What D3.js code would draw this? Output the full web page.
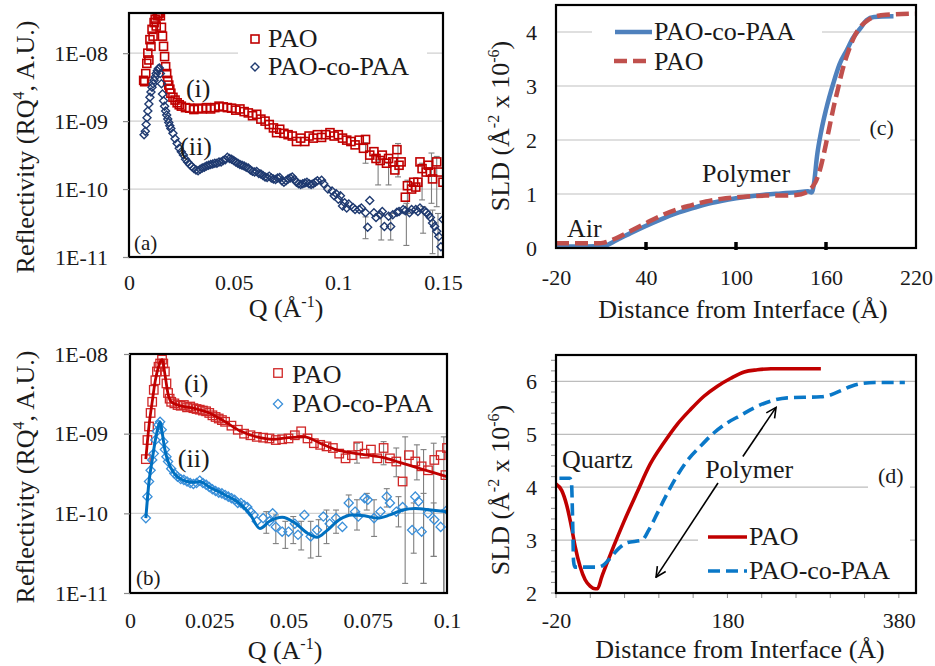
<!DOCTYPE html>
<html>
<head>
<meta charset="utf-8">
<script src="https://cdn.jsdelivr.net/npm/d3@7/dist/d3.min.js"></script>
</head>
<body style="margin:0">
<script>
// ---------- panel (a): reflectivity, Q in 1/A ----------
var aPaoQ = [0.0070,0.0075,0.0080,0.0085,0.0090,0.0095,0.0100,0.0105,0.0110,0.0115,0.0120,0.0125,0.0130,0.0135,0.0140,0.0145,0.0150,0.0155,0.0160,0.0165,0.0170,0.0175,0.0180,0.0185,0.0190,0.0195,0.020,0.021,0.022,0.023,0.024,0.025,0.027,0.029,0.031,0.033,0.035,0.037,0.039,0.041,0.043,0.045,0.047,0.049,0.051,0.053,0.055,0.057,0.059,0.061,0.063,0.065,0.067,0.069,0.0705,0.072,0.074,0.076,0.078,0.080,0.082,0.084,0.086,0.088,0.090,0.092,0.094,0.096,0.098,0.100,0.102,0.104,0.106,0.108,0.110,0.112,0.113,0.115,0.117,0.118,0.120,0.121,0.123,0.124,0.126,0.127,0.128,0.129,0.130,0.132,0.133,0.135,0.136,0.137,0.138,0.139,0.140,0.142,0.143,0.144,0.145,0.147,0.148,0.150];
var aPaoR = [3.98e-9,3.8e-9,5.01e-9,7.08e-9,1.0e-8,7.94e-9,1.58e-8,1.26e-8,2.24e-8,1.78e-8,2.82e-8,3.16e-8,2.51e-8,3.55e-8,3.8e-8,3.9e-8,3.55e-8,2.4e-8,1.78e-8,1.26e-8,8.91e-9,6.31e-9,5.01e-9,3.98e-9,3.39e-9,2.95e-9,2.57e-9,2.24e-9,2.04e-9,1.86e-9,1.74e-9,1.66e-9,1.58e-9,1.55e-9,1.48e-9,1.55e-9,1.51e-9,1.58e-9,1.51e-9,1.58e-9,1.66e-9,1.62e-9,1.58e-9,1.55e-9,1.45e-9,1.51e-9,1.38e-9,1.32e-9,1.2e-9,1.26e-9,1.07e-9,1.0e-9,8.91e-10,7.94e-10,6.76e-10,7.59e-10,6.61e-10,6.31e-10,6.03e-10,5.01e-10,5.62e-10,5.01e-10,6.03e-10,5.62e-10,6.31e-10,5.75e-10,6.31e-10,6.76e-10,6.03e-10,6.31e-10,5.62e-10,5.25e-10,5.01e-10,4.47e-10,5.25e-10,3.98e-10,5.37e-10,3.16e-10,3.55e-10,2.82e-10,2.63e-10,3.16e-10,2.4e-10,2.82e-10,2.51e-10,1.91e-10,3.8e-10,2.24e-10,2.51e-10,7.59e-11,1.12e-10,1.0e-10,1.26e-10,1.07e-10,1.26e-10,2.51e-10,2.0e-10,1.78e-10,2.24e-10,1.78e-10,1.41e-10,2.51e-10,1.78e-10,1.26e-10];
var aCoQ = [0.0072,0.0078,0.0082,0.0086,0.0090,0.0095,0.0100,0.0105,0.0110,0.0115,0.0120,0.0125,0.0130,0.0135,0.0140,0.0145,0.0150,0.0155,0.0160,0.0165,0.0170,0.0175,0.0180,0.0185,0.0190,0.0195,0.020,0.021,0.022,0.023,0.024,0.025,0.026,0.027,0.028,0.029,0.030,0.031,0.032,0.033,0.034,0.035,0.036,0.037,0.038,0.039,0.040,0.041,0.042,0.043,0.044,0.045,0.046,0.047,0.048,0.049,0.050,0.051,0.052,0.053,0.054,0.055,0.056,0.057,0.058,0.059,0.060,0.061,0.062,0.063,0.064,0.065,0.066,0.067,0.068,0.069,0.070,0.071,0.072,0.073,0.074,0.075,0.076,0.077,0.078,0.079,0.080,0.081,0.082,0.083,0.084,0.085,0.086,0.087,0.088,0.089,0.090,0.092,0.093,0.095,0.097,0.098,0.099,0.100,0.101,0.102,0.103,0.104,0.105,0.107,0.108,0.110,0.111,0.113,0.114,0.115,0.117,0.118,0.120,0.121,0.122,0.124,0.125,0.126,0.128,0.129,0.131,0.132,0.134,0.135,0.137,0.138,0.139,0.141,0.142,0.143,0.144,0.145,0.146,0.147,0.148,0.149,0.150];
var aCoR = [6.31e-10,7.08e-10,8.91e-10,1.12e-9,1.41e-9,1.78e-9,2.24e-9,2.69e-9,3.16e-9,3.55e-9,3.98e-9,4.47e-9,5.01e-9,5.5e-9,5.89e-9,6.03e-9,5.01e-9,3.55e-9,2.51e-9,2.0e-9,1.66e-9,1.41e-9,1.23e-9,1.07e-9,9.55e-10,8.51e-10,7.76e-10,6.61e-10,5.5e-10,4.68e-10,3.98e-10,3.55e-10,3.16e-10,2.75e-10,2.51e-10,2.29e-10,2.14e-10,2.0e-10,1.91e-10,1.86e-10,1.95e-10,2.04e-10,2.09e-10,2.19e-10,2.24e-10,2.29e-10,2.34e-10,2.4e-10,2.4e-10,2.51e-10,2.51e-10,2.63e-10,2.69e-10,2.95e-10,2.82e-10,2.75e-10,2.63e-10,2.51e-10,2.4e-10,2.29e-10,2.24e-10,2.19e-10,2.09e-10,2.04e-10,1.91e-10,1.82e-10,1.78e-10,1.82e-10,1.7e-10,1.66e-10,1.58e-10,1.51e-10,1.48e-10,1.55e-10,1.45e-10,1.41e-10,1.38e-10,1.45e-10,1.48e-10,1.32e-10,1.26e-10,1.32e-10,1.41e-10,1.45e-10,1.51e-10,1.38e-10,1.26e-10,1.2e-10,1.17e-10,1.2e-10,1.23e-10,1.26e-10,1.2e-10,1.17e-10,1.2e-10,1.26e-10,1.32e-10,1.35e-10,1.2e-10,1.0e-10,9.33e-11,7.94e-11,8.51e-11,7.08e-11,7.94e-11,5.62e-11,6.31e-11,5.25e-11,6.03e-11,5.37e-11,5.01e-11,5.01e-11,5.25e-11,4.47e-11,2.75e-11,6.76e-11,4.47e-11,3.8e-11,4.17e-11,4.68e-11,2.82e-11,3.98e-11,2.82e-11,4.17e-11,4.57e-11,4.68e-11,5.01e-11,4.79e-11,4.47e-11,5.01e-11,5.01e-11,4.68e-11,5.25e-11,4.79e-11,4.57e-11,4.17e-11,3.8e-11,3.16e-11,2.82e-11,2.4e-11,2.0e-11,1.41e-11,3.55e-11];
// error bars as [Q, low, high]
var aPaoErr = [[0.113,4.8e-10,2.4e-10],[0.119,2.69e-10,1.15e-10],[0.124,2.4e-10,1.15e-10],[0.1285,4.68e-10,1.51e-10],[0.133,1.35e-10,4.37e-11],[0.140,2.4e-10,6.92e-11],[0.1445,3.39e-10,6.17e-11],[0.147,3.02e-10,5.5e-11]];
var aCoErr = [[0.113,3.89e-11,1.86e-11],[0.1205,4.37e-11,1.78e-11],[0.125,4.37e-11,1.78e-11],[0.1325,6.17e-11,1.48e-11],[0.1405,5.5e-11,2.24e-11],[0.145,4.9e-11,1.12e-11],[0.1476,4.37e-11,1.0e-11]];
var aYTicks = [1e-11, 1e-10, 1e-9, 1e-8];
var aYLabels = ["1E-11", "1E-10", "1E-09", "1E-08"];
var aXTicks = [0, 0.05, 0.1, 0.15];
var aXLabels = ["0", "0.05", "0.1", "0.15"];

// ---------- panel (b): reflectivity with fits ----------
var bPaoQ = [0.005,0.0055,0.006,0.0065,0.007,0.0075,0.008,0.0085,0.009,0.0095,0.0101,0.0105,0.011,0.0115,0.012,0.0125,0.013,0.014,0.015,0.016,0.017,0.018,0.019,0.020,0.021,0.022,0.023,0.024,0.025,0.026,0.027,0.028,0.029,0.030,0.032,0.034,0.036,0.038,0.040,0.042,0.044,0.046,0.048,0.050,0.052,0.054,0.056,0.058,0.060,0.062,0.064,0.066,0.068,0.070,0.072,0.074,0.076,0.078,0.080,0.082,0.084,0.086,0.088,0.090,0.092,0.094,0.096,0.098,0.0995,0.100];
var bPaoR = [4.79e-10,8.32e-10,1.23e-9,1.82e-9,2.51e-9,3.55e-9,4.68e-9,6.03e-9,6.92e-9,7.59e-9,8.51e-9,7.59e-9,6.03e-9,4.27e-9,3.24e-9,2.75e-9,2.51e-9,2.4e-9,2.29e-9,2.24e-9,2.29e-9,2.14e-9,2.19e-9,2.09e-9,2.04e-9,2.0e-9,1.95e-9,1.91e-9,1.82e-9,1.7e-9,1.62e-9,1.55e-9,1.48e-9,1.41e-9,1.26e-9,1.12e-9,1.0e-9,9.55e-10,9.12e-10,8.91e-10,8.71e-10,8.32e-10,8.51e-10,8.71e-10,9.55e-10,1.07e-9,8.71e-10,7.59e-10,7.24e-10,6.92e-10,6.61e-10,5.62e-10,4.9e-10,5.37e-10,6.92e-10,5.62e-10,6.31e-10,4.9e-10,6.61e-10,4.9e-10,4.47e-10,2.51e-10,5.37e-10,4.47e-10,3.89e-10,3.47e-10,4.68e-10,5.37e-10,3.02e-10,6.61e-10];
var bPaoFitQ = [0.005,0.006,0.007,0.008,0.009,0.0098,0.0102,0.011,0.012,0.013,0.015,0.020,0.025,0.030,0.035,0.040,0.045,0.050,0.055,0.060,0.065,0.070,0.075,0.080,0.085,0.090,0.095,0.100];
var bPaoFitR = [4.79e-10,1.26e-9,2.51e-9,4.68e-9,6.92e-9,8.32e-9,8.51e-9,5.62e-9,3.16e-9,2.51e-9,2.29e-9,2.09e-9,1.82e-9,1.41e-9,1.07e-9,9.12e-10,8.51e-10,8.91e-10,9.12e-10,7.59e-10,6.31e-10,5.75e-10,5.37e-10,5.01e-10,4.37e-10,3.8e-10,3.31e-10,2.88e-10];
var bCoQ = [0.005,0.0055,0.006,0.0065,0.007,0.0075,0.008,0.0085,0.009,0.0095,0.010,0.0105,0.011,0.0115,0.012,0.013,0.014,0.015,0.016,0.017,0.018,0.019,0.020,0.021,0.022,0.023,0.024,0.025,0.026,0.027,0.028,0.029,0.030,0.031,0.032,0.033,0.034,0.035,0.036,0.037,0.038,0.039,0.040,0.042,0.044,0.045,0.046,0.048,0.050,0.052,0.053,0.055,0.057,0.059,0.061,0.063,0.065,0.067,0.069,0.071,0.072,0.074,0.075,0.077,0.079,0.081,0.082,0.084,0.086,0.089,0.090,0.091,0.092,0.094,0.096,0.098,0.100];
var bCoR = [8.71e-11,1.62e-10,2.51e-10,3.47e-10,4.68e-10,5.62e-10,8.32e-10,1.07e-9,1.29e-9,1.41e-9,1.12e-9,7.94e-10,6.31e-10,5.13e-10,4.47e-10,3.63e-10,3.16e-10,2.88e-10,2.69e-10,2.63e-10,2.51e-10,2.4e-10,2.34e-10,2.4e-10,2.57e-10,2.4e-10,2.29e-10,2.14e-10,2.0e-10,1.91e-10,1.82e-10,1.78e-10,1.7e-10,1.62e-10,1.55e-10,1.48e-10,1.35e-10,1.35e-10,1.26e-10,1.2e-10,1.05e-10,9.55e-11,7.94e-11,8.71e-11,7.94e-11,1.0e-10,6.76e-11,5.89e-11,5.89e-11,7.41e-11,5.37e-11,9.55e-11,5.13e-11,6.17e-11,9.12e-11,7.41e-11,8.71e-11,6.76e-11,1.35e-10,1.05e-10,9.12e-11,1.55e-10,1.48e-10,8.71e-11,1.05e-10,1.62e-10,1.35e-10,1.05e-10,1.2e-10,6.17e-11,1.62e-10,1.41e-10,5.89e-11,1.0e-10,8.32e-11,6.76e-11,1.1e-10];
var bCoFitQ = [0.005,0.006,0.007,0.008,0.009,0.0095,0.010,0.011,0.012,0.014,0.016,0.018,0.020,0.022,0.025,0.030,0.035,0.038,0.041,0.044,0.048,0.052,0.056,0.059,0.062,0.066,0.070,0.074,0.078,0.082,0.086,0.090,0.095,0.100];
var bCoFitR = [8.71e-11,2.51e-10,4.68e-10,8.32e-10,1.26e-9,1.41e-9,1.12e-9,6.31e-10,4.47e-10,3.16e-10,2.69e-10,2.51e-10,2.45e-10,2.51e-10,2.14e-10,1.7e-10,1.29e-10,9.55e-11,6.46e-11,7.94e-11,8.91e-11,7.59e-11,5.62e-11,5.01e-11,6.03e-11,8.32e-11,9.55e-11,9.33e-11,8.71e-11,9.55e-11,1.1e-10,1.15e-10,1.1e-10,1.05e-10];
var bPaoErr = [[0.0716,7.59e-10,4.27e-10],[0.080,7.94e-10,4.07e-10],[0.084,6.61e-10,2.88e-10],[0.0868,9.12e-10,1.32e-11],[0.0905,7.24e-10,2.63e-10],[0.0926,6.31e-10,1.32e-11],[0.0958,7.59e-10,2.88e-11],[0.099,9.12e-10,1.0e-11]];
var bCoErr = [[0.043,1.05e-10,5.62e-11],[0.046,9.55e-11,4.17e-11],[0.049,7.94e-11,3.63e-11],[0.0515,9.12e-11,4.17e-11],[0.054,7.94e-11,3.47e-11],[0.057,7.94e-11,2.75e-11],[0.0595,8.32e-11,2.88e-11],[0.062,1.1e-10,4.17e-11],[0.065,1.1e-10,5.62e-11],[0.069,1.7e-10,9.55e-11],[0.0716,1.48e-10,6.17e-11],[0.0747,1.78e-10,1.1e-10],[0.077,1.48e-10,5.13e-11],[0.081,2.04e-10,1.2e-10],[0.0847,1.62e-10,6.76e-11],[0.0895,1.35e-10,3.16e-11],[0.0926,1.78e-10,1.32e-11],[0.0958,1.35e-10,2.88e-11],[0.099,1.1e-10,1.0e-11]];
var bYTicks = [1e-11, 1e-10, 1e-9, 1e-8];
var bYLabels = ["1E-11", "1E-10", "1E-09", "1E-08"];
var bXTicks = [0, 0.025, 0.05, 0.075, 0.1];
var bXLabels = ["0", "0.025", "0.05", "0.075", "0.1"];

// ---------- panel (c): SLD vs distance ----------
var cCoX = [-20,0,12,20,30,40,50,60,70,80,90,100,110,120,130,140,148,150.5,152,154,157,160,165,169,174,178,183,187,192,205];
var cCoY = [0.03,0.03,0.04,0.14,0.28,0.41,0.53,0.64,0.73,0.81,0.87,0.92,0.96,0.99,1.01,1.03,1.05,1.03,1.2,1.7,2.19,2.56,3.06,3.4,3.67,3.89,4.07,4.22,4.28,4.29];
var cPaoX = [-20,8,12,20,30,40,50,60,70,80,90,100,110,120,130,140,146,150,153,156,159,162,165,168,171,175,179,183,187,192,200,220];
var cPaoY = [0.09,0.09,0.1,0.18,0.32,0.46,0.6,0.71,0.79,0.86,0.91,0.94,0.96,0.97,0.97,0.98,1.02,1.1,1.22,1.45,1.8,2.2,2.6,2.95,3.3,3.65,3.92,4.1,4.2,4.28,4.32,4.34];
var cYTicks = [0, 1, 2, 3, 4];
var cXTicks = [-20, 40, 100, 160, 220];

// ---------- panel (d): SLD vs distance ----------
var dPaoX = [-20,-13.4,-7.5,-1.6,2.3,8.1,14,19.8,25.7,28.4,33.5,39.4,47.2,59,74.5,90,105.8,121.4,137,152.6,168.3,184,199.5,215,230.8,289];
var dPaoY = [4.06,3.94,3.66,3.22,2.88,2.5,2.25,2.13,2.08,2.08,2.31,2.56,2.88,3.34,3.9,4.44,4.84,5.19,5.47,5.72,5.91,6.06,6.18,6.22,6.24,6.24];
var dCoX = [-16,-4,-2,-0.5,0.5,2,28,35.5,43.3,53,62.8,80.4,88.2,98,109.7,121.4,133,148.8,164.4,180,195.6,211,230.8,250,289,301,312.8,324.5,336,352,387];
var dCoY = [4.17,4.17,4.1,3.3,2.6,2.49,2.49,2.53,2.66,2.84,2.95,3.0,3.19,3.5,3.88,4.22,4.5,4.78,5.03,5.22,5.36,5.5,5.63,5.69,5.71,5.75,5.83,5.91,5.96,5.98,5.98];
var dYTicks = [2, 3, 4, 5, 6];
var dXTicks = [-20, 180, 380];

var serif = "'Liberation Serif'";
var ink = "#1a1a1a";
var px = d3.scaleIdentity();

var svg = d3.select("body")
	.append("svg")
	.attr("width", 935)
	.attr("height", 666);

svg.append("rect").attr("width", 935).attr("height", 666).attr("fill", "#fff");

var defs = svg.append("defs");
defs.append("marker")
	.attr("id", "head")
	.attr("viewBox", "0 0 12 12")
	.attr("refX", 11).attr("refY", 6)
	.attr("markerWidth", 12).attr("markerHeight", 12)
	.attr("markerUnits", "userSpaceOnUse")
	.attr("orient", "auto")
	.append("path")
	.attr("d", "M1,1 L11,6 L1,11")
	.attr("fill", "none")
	.attr("stroke", "#000")
	.attr("stroke-width", 1.6);

// helpers
function plotArea(id, x, y) {
	defs.append("clipPath").attr("id", id).append("rect")
		.attr("x", x.range()[0]).attr("y", y.range()[1])
		.attr("width", x.range()[1] - x.range()[0])
		.attr("height", y.range()[0] - y.range()[1]);
	return svg.append("g").attr("clip-path", "url(#" + id + ")");
}

function gridLines(x, y, vals, color) {
	svg.append("g").selectAll("line")
		.data(vals)
		.enter()
		.append("line")
		.attr("x1", x.range()[0]).attr("x2", x.range()[1])
		.attr("y1", function(d) { return y(d); })
		.attr("y2", function(d) { return y(d); })
		.attr("stroke", color)
		.attr("stroke-width", 1.3);
}

function frame(x, y) {
	svg.append("rect")
		.attr("x", x.range()[0]).attr("y", y.range()[1])
		.attr("width", x.range()[1] - x.range()[0])
		.attr("height", y.range()[0] - y.range()[1])
		.attr("fill", "none")
		.attr("stroke", "#000")
		.attr("stroke-width", 2.2);
}

function yAxis(x, y, vals, labels, tick, pad) {
	var g = svg.append("g")
		.attr("transform", "translate(" + x.range()[0] + ",0)")
		.call(d3.axisLeft(y).tickValues(vals).tickSize(tick).tickPadding(pad)
			.tickFormat(function(d) { return labels[vals.indexOf(d)]; }));
	g.attr("font-family", null);
	g.select(".domain").remove();
	g.selectAll("line").attr("stroke", "#8c8c8c").attr("stroke-width", 1.2);
	g.selectAll("text").style("font-family", serif).attr("font-size", 22).attr("fill", ink);
}

function xAxis(x, y, vals, labels, pad) {
	var g = svg.append("g")
		.attr("transform", "translate(0," + y.range()[0] + ")")
		.call(d3.axisBottom(x).tickValues(vals).tickSize(0).tickPadding(pad)
			.tickFormat(function(d) { return labels[vals.indexOf(d)]; }));
	g.attr("font-family", null);
	g.select(".domain").remove();
	g.selectAll("text").style("font-family", serif).attr("font-size", 22).attr("fill", ink);
}

// parts alternate: normal, superscript, normal, ...
function axisTitle(x0, y0, angle, parts) {
	var t = svg.append("text")
		.attr("transform", "translate(" + x0 + "," + y0 + ") rotate(" + angle + ")")
		.attr("text-anchor", "middle")
		.style("font-family", serif)
		.attr("font-size", 26)
		.attr("fill", ink);
	parts.forEach(function(p, i) {
		var sup = i % 2 == 1;
		t.append("tspan")
			.attr("dy", sup ? -10 : (i > 0 ? 10 : 0))
			.attr("font-size", sup ? 16 : 26)
			.text(p);
	});
}

function note(x0, y0, txt, size) {
	svg.append("text")
		.attr("x", x0).attr("y", y0)
		.style("font-family", serif)
		.attr("font-size", size)
		.attr("fill", ink)
		.text(txt);
}

function squares(g, x, y, qs, rs, color, s, w) {
	g.append("g").selectAll("rect")
		.data(qs)
		.enter()
		.append("rect")
		.attr("x", function(d) { return x(d) - s / 2; })
		.attr("y", function(d, i) { return y(rs[i]) - s / 2; })
		.attr("width", s).attr("height", s)
		.attr("fill", "none")
		.attr("stroke", color)
		.attr("stroke-width", w);
}

function diamonds(g, x, y, qs, rs, color, r, w) {
	g.append("g").selectAll("path")
		.data(qs)
		.enter()
		.append("path")
		.attr("transform", function(d, i) { return "translate(" + x(d) + "," + y(rs[i]) + ")"; })
		.attr("d", "M0," + (-r) + "L" + r + ",0L0," + r + "L" + (-r) + ",0Z")
		.attr("fill", "none")
		.attr("stroke", color)
		.attr("stroke-width", w);
}

function errorBars(g, x, y, errs) {
	var e = g.append("g").attr("stroke", "#7f7f7f").attr("stroke-width", 1.1);
	errs.forEach(function(d) {
		var xx = x(d[0]);
		e.append("line").attr("x1", xx).attr("x2", xx).attr("y1", y(d[1])).attr("y2", y(d[2]));
		e.append("line").attr("x1", xx - 3).attr("x2", xx + 3).attr("y1", y(d[1])).attr("y2", y(d[1]));
		e.append("line").attr("x1", xx - 3).attr("x2", xx + 3).attr("y1", y(d[2])).attr("y2", y(d[2]));
	});
}

function curve(g, x, y, xs, ys, color, w, dash) {
	var line = d3.line()
		.x(function(d) { return x(d); })
		.y(function(d, i) { return y(ys[i]); })
		.curve(d3.curveMonotoneX);
	g.append("path")
		.attr("d", line(xs))
		.attr("fill", "none")
		.attr("stroke", color)
		.attr("stroke-width", w)
		.attr("stroke-dasharray", dash || null);
}

function whiteBox(x0, y0, w, h) {
	svg.append("rect").attr("x", x0).attr("y", y0).attr("width", w).attr("height", h).attr("fill", "#fff");
}

//Panel (a)
var xA = d3.scaleLinear().domain([0, 0.15]).range([129, 443]);
var yA = d3.scaleLog().domain([1e-11, 3.9e-8]).range([257, 13]);
gridLines(xA, yA, [1e-10, 1e-9, 1e-8], "#d0d0d0");
whiteBox(238, 25, 189, 57);
var gA = plotArea("clipA", xA, yA);
errorBars(gA, xA, yA, aPaoErr);
errorBars(gA, xA, yA, aCoErr);
squares(gA, xA, yA, aPaoQ, aPaoR, "#c00000", 8, 1.6);
diamonds(gA, xA, yA, aCoQ, aCoR, "#1f3a70", 4, 1.4);
frame(xA, yA);
yAxis(xA, yA, aYTicks, aYLabels, 6, 15);
xAxis(xA, yA, aXTicks, aXLabels, 17);
axisTitle(286, 317, 0, ["Q (Å", "-1", ")"]);
axisTitle(34, 147, -90, ["Reflectivity (RQ", "4", ", A.U.)"]);
squares(svg, px, px, [255], [39], "#c00000", 8, 1.6);
diamonds(svg, px, px, [255], [67], "#1f3a70", 4, 1.4);
note(268, 47, "PAO", 26);
note(268, 75, "PAO-co-PAA", 26);
note(xA(0.0272), yA(2.25e-9), "(i)", 26);
note(xA(0.0244), yA(3.16e-10), "(ii)", 26);
note(xA(0.0024), yA(1.26e-11), "(a)", 21);

//Panel (b)
var xB = d3.scaleLinear().domain([0, 0.1]).range([130, 447]);
var yB = d3.scaleLog().domain([1e-11, 1e-8]).range([593, 354]);
gridLines(xB, yB, [1e-10, 1e-9], "#d0d0d0");
var gB = plotArea("clipB", xB, yB);
errorBars(gB, xB, yB, bPaoErr);
errorBars(gB, xB, yB, bCoErr);
squares(gB, xB, yB, bPaoQ, bPaoR, "#d02626", 8.5, 1.3);
diamonds(gB, xB, yB, bCoQ, bCoR, "#3a8fd9", 4.6, 1.3);
curve(gB, xB, yB, bPaoFitQ, bPaoFitR, "#c00000", 2.8);
curve(gB, xB, yB, bCoFitQ, bCoFitR, "#0070c0", 3);
frame(xB, yB);
yAxis(xB, yB, bYTicks, bYLabels, 6, 16);
xAxis(xB, yB, bXTicks, bXLabels, 19);
axisTitle(285, 659, 0, ["Q (A", "-1", ")"]);
axisTitle(34, 477, -90, ["Reflectivity (RQ", "4", ", A.U.)"]);
squares(svg, px, px, [278], [373], "#d02626", 8.5, 1.3);
diamonds(svg, px, px, [278], [404], "#3a8fd9", 4.6, 1.3);
note(292, 383, "PAO", 26);
note(292, 412, "PAO-co-PAA", 26);
note(xB(0.017), yB(3.33e-9), "(i)", 26);
note(xB(0.0151), yB(3.82e-10), "(ii)", 26);
note(xB(0.0019), yB(1.26e-11), "(b)", 21);

//Panel (c)
var xC = d3.scaleLinear().domain([-20, 220]).range([556, 916]);
var yC = d3.scaleLinear().domain([0, 4.5]).range([248, 5]);
gridLines(xC, yC, [1, 2, 3, 4], "#d4d4d4");
whiteBox(592, 18, 230, 57);
whiteBox(860, 105, 50, 46);
var gC = plotArea("clipC", xC, yC);
curve(gC, xC, yC, cCoX, cCoY, "#4f81bd", 4.5);
curve(gC, xC, yC, cPaoX, cPaoY, "#c0504d", 4.5, "13,6");
frame(xC, yC);
// bold tick marks crossing the bottom axis
svg.append("g").selectAll("line")
	.data([40, 100, 160])
	.enter()
	.append("line")
	.attr("x1", function(d) { return xC(d); })
	.attr("x2", function(d) { return xC(d); })
	.attr("y1", yC(0) - 6).attr("y2", yC(0) + 2)
	.attr("stroke", "#000")
	.attr("stroke-width", 3.5);
yAxis(xC, yC, cYTicks, cYTicks.map(String), 0, 19);
xAxis(xC, yC, cXTicks, cXTicks.map(String), 21);
axisTitle(743, 318, 0, ["Distance from Interface (Å)"]);
axisTitle(509, 126, -90, ["SLD (Å", "-2", " x 10", "-6", ")"]);
svg.append("line").attr("x1", 615).attr("x2", 652).attr("y1", 32).attr("y2", 32)
	.attr("stroke", "#4f81bd").attr("stroke-width", 4.5);
svg.append("line").attr("x1", 614).attr("x2", 652).attr("y1", 61).attr("y2", 61)
	.attr("stroke", "#c0504d").attr("stroke-width", 4.5).attr("stroke-dasharray", "13,6");
note(654, 40, "PAO-co-PAA", 26);
note(654, 70, "PAO", 26);
note(xC(-12.7), yC(0.2), "Air", 26);
note(xC(77.3), yC(1.22), "Polymer", 26);
note(xC(189), yC(2.09), "(c)", 22);

//Panel (d)
var xD = d3.scaleLinear().domain([-20, 400]).range([556, 916]);
var yD = d3.scaleLinear().domain([2, 6.5]).range([593, 355]);
gridLines(xD, yD, [3, 4, 5, 6], "#bdbdbd");
whiteBox(868, 462, 42, 30);
var gD = plotArea("clipD", xD, yD);
curve(gD, xD, yD, dPaoX, dPaoY, "#c00000", 3.6);
curve(gD, xD, yD, dCoX, dCoY, "#0a78c8", 3.6, "12,6");
// minor ticks on both axes
svg.append("g").selectAll("line")
	.data(d3.range(2, 6.51, 0.2))
	.enter()
	.append("line")
	.attr("x1", xD(-20) - 5).attr("x2", xD(-20))
	.attr("y1", function(d) { return yD(d); })
	.attr("y2", function(d) { return yD(d); })
	.attr("stroke", "#8c8c8c").attr("stroke-width", 1);
svg.append("g").selectAll("line")
	.data(d3.range(-20, 400, 40))
	.enter()
	.append("line")
	.attr("x1", function(d) { return xD(d); })
	.attr("x2", function(d) { return xD(d); })
	.attr("y1", yD(2)).attr("y2", yD(2) + 5)
	.attr("stroke", "#8c8c8c").attr("stroke-width", 1);
whiteBox(698, 522, 212, 65);
frame(xD, yD);
yAxis(xD, yD, dYTicks, dYTicks.map(String), 0, 19);
xAxis(xD, yD, dXTicks, dXTicks.map(String), 19);
axisTitle(740, 658, 0, ["Distance from Interface (Å)"]);
axisTitle(509, 490, -90, ["SLD (Å", "-2", " x 10", "-6", ")"]);
svg.append("line").attr("x1", 708).attr("x2", 747).attr("y1", 537).attr("y2", 537)
	.attr("stroke", "#c00000").attr("stroke-width", 3.6);
svg.append("line").attr("x1", 708).attr("x2", 747).attr("y1", 571).attr("y2", 571)
	.attr("stroke", "#0a78c8").attr("stroke-width", 3.6).attr("stroke-dasharray", "12,6");
note(749, 545, "PAO", 26);
note(749, 579, "PAO-co-PAA", 26);
note(xD(-13), yD(4.36), "Quartz", 26);
note(xD(154), yD(4.17), "Polymer", 26);
note(xD(355.7), yD(4.08), "(d)", 22);
svg.append("line")
	.attr("x1", xD(198)).attr("y1", yD(4.58))
	.attr("x2", xD(236.7)).attr("y2", yD(5.51))
	.attr("stroke", "#000").attr("stroke-width", 1.6)
	.attr("marker-end", "url(#head)");
svg.append("line")
	.attr("x1", xD(169)).attr("y1", yD(4.08))
	.attr("x2", xD(96.7)).attr("y2", yD(2.3))
	.attr("stroke", "#000").attr("stroke-width", 1.6)
	.attr("marker-end", "url(#head)");
</script>
</body>
</html>
